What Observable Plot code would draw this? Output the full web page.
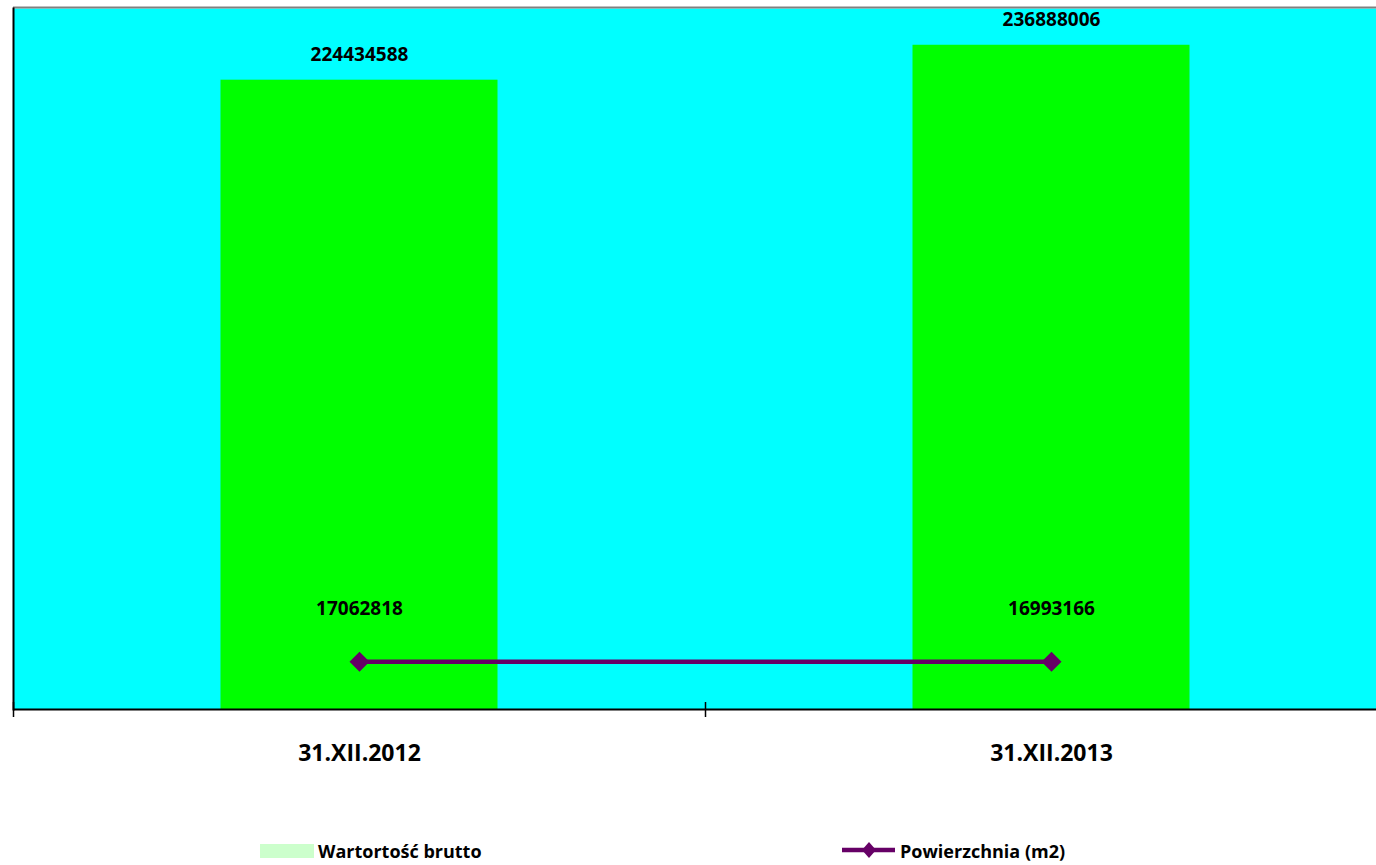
<!DOCTYPE html>
<html>
<head>
<meta charset="utf-8">
<script src="https://cdn.jsdelivr.net/npm/d3@7"></script>
<script src="https://cdn.jsdelivr.net/npm/@observablehq/plot@0.6"></script>
<style>
  html, body { margin: 0; padding: 0; background: #ffffff; overflow: hidden; }
  #wrap { position: relative; width: 1376px; height: 865px; font-family: 'Open Sans', sans-serif; }
  #legend { position: absolute; left: 0; top: 800px; width: 1376px; height: 65px; }
  .item { position: absolute; top: 38px; height: 24px; }
  .item svg { position: absolute; top: 0; left: 0; }
  .item span { position: absolute; top: 4px; font-size: 18px; font-weight: bold; line-height: 18px; white-space: nowrap; color: #000; }
</style>
</head>
<body>
<div id="wrap">
  <div id="chart"></div>
  <div id="legend"></div>
</div>
<script>
// ---- data ----
const categories = ["31.XII.2012", "31.XII.2013"];
const grossValue = [224434588, 236888006];      // Wartortość brutto
const areaValue = [17062818, 16993166];         // Powierzchnia (m2)
const seriesNames = ["Wartortość brutto", "Powierzchnia (m2)"];
const yDomain = [0, 250000000];

// ---- styles / layout ----
const colors = { plotBg: "#00FFFF", bar: "#00FF00", line: "#660066", legendBar: "#CCFFCC", border: "#808080" };
const W = 1376, H = 800;
const xRange = [13, 1397];
const halfBand = (xRange[1] - xRange[0]) / categories.length / 2;
const barInset = 207.5;

const rows = categories.map((c, i) => ({ cat: c, gross: grossValue[i], area: areaValue[i] }));

const chart = Plot.plot({
  width: W,
  height: H,
  marginLeft: 13,
  marginRight: 0,
  marginTop: 8,
  marginBottom: 91,
  style: { fontFamily: "'Open Sans', sans-serif", background: "white" },
  x: { type: "band", domain: categories, range: xRange, padding: 0, axis: null, label: null },
  y: { domain: yDomain, axis: null, label: null },
  marks: [
    Plot.frame({ fill: colors.plotBg }),
    Plot.ruleY([yDomain[1]], { stroke: colors.border, strokeWidth: 2, dy: -1 }),
    Plot.barY(rows, { x: "cat", y: "gross", fill: colors.bar, insetLeft: barInset, insetRight: barInset }),
    Plot.line(rows, { x: "cat", y: "area", stroke: colors.line, strokeWidth: 4.5 }),
    Plot.dot(rows, { x: "cat", y: "area", symbol: "diamond2", r: 9, fill: colors.line, stroke: "none" }),
    Plot.text(rows, { x: "cat", y: "gross", text: d => String(d.gross), dy: -25.5, fontSize: 19, fontWeight: "bold", fill: "black" }),
    Plot.text(rows, { x: "cat", y: "area", text: d => String(d.area), dy: -52.5, fontSize: 19, fontWeight: "bold", fill: "black" }),
    Plot.ruleY([0], { stroke: "black", strokeWidth: 2 }),
    Plot.frame({ anchor: "left", stroke: "black", strokeWidth: 2 }),
    Plot.axisX({ ticks: categories, tickSize: 8, text: null, label: null, dx: -halfBand, stroke: "black", strokeWidth: 1.5, strokeOpacity: 1 }),
    Plot.axisX({ ticks: categories, tickSize: -7, text: null, label: null, dx: -halfBand, stroke: "black", strokeWidth: 1.5, strokeOpacity: 1 }),
    Plot.axisX({ tickSize: 0, tickPadding: 35, fontSize: 23, fontWeight: "bold", label: null, fill: "black" })
  ]
});
document.getElementById("chart").appendChild(chart);

// ---- legend ----
const legend = document.getElementById("legend");
function addItem(left, swatchSvg, textLeft, label) {
  const d = document.createElement("div");
  d.className = "item";
  d.style.left = left + "px";
  d.innerHTML = swatchSvg + `<span style="left:${textLeft}px">${label}</span>`;
  legend.appendChild(d);
}
addItem(260,
  `<svg width="56" height="24"><rect x="0" y="6" width="54" height="14" fill="${colors.legendBar}"/></svg>`,
  58, seriesNames[0]);
addItem(842,
  `<svg width="56" height="24"><line x1="0" x2="53" y1="12" y2="12" stroke="${colors.line}" stroke-width="4.5"/><path d="M27,4 L34,12 L27,20 L20,12 Z" fill="${colors.line}"/></svg>`,
  58, seriesNames[1]);
</script>
</body>
</html>
